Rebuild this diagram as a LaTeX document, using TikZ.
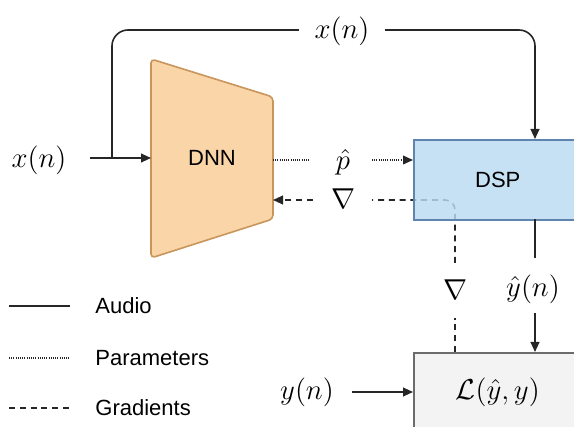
\documentclass[tikz,border=0pt]{standalone}
\usepackage{fontspec}
\setsansfont{Liberation Sans}
\usetikzlibrary{arrows.meta}
\definecolor{dnnfill}{HTML}{F9D5A7}
\definecolor{dnnline}{HTML}{C8955C}
\definecolor{dspfill}{HTML}{BBDAF2}
\definecolor{dspline}{HTML}{5F84AE}
\definecolor{lossfill}{HTML}{F3F3F3}
\definecolor{lossline}{HTML}{6B6B6B}
\begin{document}
\begin{tikzpicture}[x=0.5pt,y=-0.5pt,
  sig/.style={line width=0.8pt, draw=black!85},
  tip/.style={-{Triangle[length=5pt,width=4.4pt]}},
  par/.style={line width=0.7pt, draw=black!85, dash pattern=on 0.5pt off 0.6pt},
  grad/.style={line width=0.8pt, draw=black!85, dash pattern=on 3pt off 2.4pt},
  lab/.style={font=\fontsize{13.5}{16}\selectfont, fill=white, inner sep=1pt},
  txt/.style={font=\sffamily\fontsize{11}{13}\selectfont},
  blockbox/.style={line width=0.8pt, minimum width=84pt, minimum height=40pt, inner sep=0pt, anchor=north west},
]
\useasboundingbox (0,0) rectangle (574,427);
\clip (0,0) rectangle (574,427);

% DNN trapezoid
\draw[dnnline, fill=dnnfill, line width=0.8pt, rounded corners=2pt]
  (151,59) -- (273,97) -- (273,219) -- (151,258) -- cycle;
\node[txt] (dnn) at (212,158) {DNN};
\coordinate (dnnin) at (151,158);
\coordinate (dnnout) at (273,160);
\coordinate (dnnback) at (273,200);

% gradients (drawn first, the DSP block lies over them)
\coordinate (gl) at (455,352);
\coordinate (gm) at (455,318);
\coordinate (gu) at (455,263);
\coordinate (gc) at (455,200);
\coordinate (gh) at (372,200);
\coordinate (gt) at (313,200);
\draw[grad] (gl) -- (gm);
\draw[grad, rounded corners=5pt] (gu) -- (gc) -- (gh);
\draw[grad, tip] (gt) -- (dnnback);
\node[lab] (g2) at (343,199) {$\nabla$};
\node[lab] (g1) at (455,290) {$\nabla$};

% DSP and loss blocks
\node[blockbox, draw=dspline, fill=dspfill, fill opacity=0.82, text opacity=1, txt] (dsp) at (413,139) {DSP\hspace{5pt}};
\node[blockbox, draw=lossline, fill=lossfill, font=\fontsize{13.5}{16}\selectfont] (loss) at (413,352) {$\mathcal{L}(\hat{y},y)$\hspace{5pt}};

% input
\node[lab] (xin) at (39,160) {$x(n)$};
\coordinate (xstart) at (90,158);
\draw[sig, tip] (xstart) -- (dnnin);
\coordinate (junc) at (112,158);
\coordinate (dsptop) at (535,139);
\draw[sig, tip, rounded corners=8pt] (junc) -- (112,30) -- (535,30) -- (dsptop);
\node[lab, inner xsep=8pt] (xtop) at (342,31) {$x(n)$};

% parameters
\node[lab] (phat) at (343,162) {$\hat{p}$};
\coordinate (pa) at (310,160);
\coordinate (pb) at (372,160);
\coordinate (dspin) at (413,160);
\draw[par] (dnnout) -- (pa);
\draw[par, tip] (pb) -- (dspin);

% DSP output
\node[lab] (yhat) at (533,289) {$\hat{y}(n)$};
\coordinate (dspout) at (535,219);
\coordinate (yha) at (535,258);
\coordinate (yhb) at (535,313);
\coordinate (lossin) at (535,352);
\draw[sig] (dspout) -- (yha);
\draw[sig, tip] (yhb) -- (lossin);

% target
\node[lab] (yt) at (307,392) {$y(n)$};
\coordinate (ya) at (352,392);
\coordinate (yb) at (413,392);
\draw[sig, tip] (ya) -- (yb);

% legend
\coordinate (l1a) at (9,306); \coordinate (l1b) at (70,306);
\coordinate (l2a) at (9,358); \coordinate (l2b) at (70,358);
\coordinate (l3a) at (9,408); \coordinate (l3b) at (70,408);
\draw[sig] (l1a) -- (l1b);
\draw[par] (l2a) -- (l2b);
\draw[grad] (l3a) -- (l3b);
\node[txt, anchor=west, inner sep=0pt] (t1) at (95,306) {Audio};
\node[txt, anchor=west, inner sep=0pt] (t2) at (95,358) {Parameters};
\node[txt, anchor=west, inner sep=0pt] (t3) at (95,408) {Gradients};
\end{tikzpicture}
\end{document}
